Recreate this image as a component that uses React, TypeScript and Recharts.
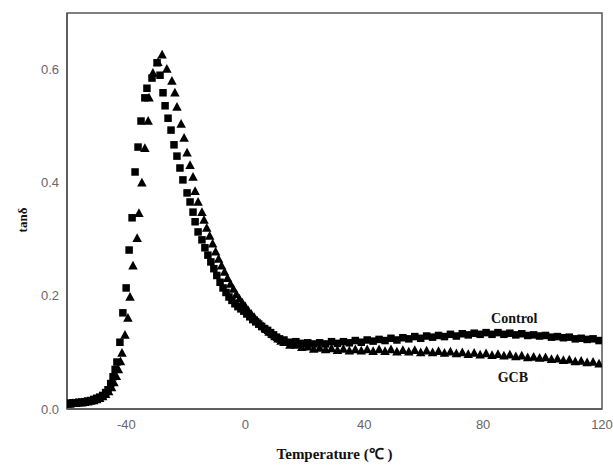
import React from 'react';
import { ScatterChart, Scatter, XAxis, YAxis, ReferenceArea, ReferenceDot } from 'recharts';

// tan delta vs temperature
const controlTemp = [
  -60, -59, -58, -57, -56, -55, -54, -53, -52, -51, -50, -49, -48, -47, -46.2, -45.3, -44.5, -43.8, -43.2,
  -42.2, -41.2, -40.1, -39.1, -38.1, -37.1, -36.1, -35.1, -33.8, -33.1, -31.4, -29.7, -28.7, -27.7, -27,
  -26, -25, -24, -23, -22, -21, -19.6, -18.6, -17.6, -16.9, -15.9, -14.6, -13.6, -12.6, -11.6, -10.6, -9.6,
  -8.5, -7.5, -6.5, -5.5, -4.5, -3.5, -2.5, -1.5, -0.5, 0.5, 1.5, 2.5, 3.5, 4.5, 5.5, 6.5, 7.5, 8.5, 9.5,
  10.5, 11.5, 13, 15, 17, 19, 21, 23, 25, 27, 29, 31, 33, 35, 37, 39, 41, 43, 45, 47, 49, 51, 53, 55, 57,
  59, 61, 63, 65, 67, 69, 71, 73, 75, 77, 79, 81, 83, 85, 87, 89, 91, 93, 95, 97, 99, 101, 103, 105, 107,
  109, 111, 113, 115, 117, 119,
];
const controlTan = [
  0.01, 0.01, 0.011, 0.011, 0.012, 0.012, 0.013, 0.014, 0.015, 0.017, 0.019, 0.021, 0.024, 0.029, 0.034,
  0.045, 0.057, 0.07, 0.083, 0.118, 0.17, 0.214, 0.281, 0.338, 0.419, 0.463, 0.509, 0.55, 0.567, 0.585,
  0.612, 0.59, 0.559, 0.536, 0.514, 0.493, 0.467, 0.447, 0.426, 0.405, 0.382, 0.366, 0.348, 0.331, 0.313,
  0.299, 0.285, 0.272, 0.26, 0.248, 0.236, 0.224, 0.214, 0.206, 0.198, 0.192, 0.186, 0.181, 0.177, 0.173,
  0.168, 0.163, 0.158, 0.154, 0.15, 0.146, 0.142, 0.139, 0.135, 0.131, 0.127, 0.124, 0.122, 0.118, 0.119,
  0.116, 0.117, 0.115, 0.117, 0.115, 0.119, 0.116, 0.119, 0.117, 0.121, 0.118, 0.122, 0.12, 0.123, 0.121,
  0.125, 0.122, 0.126, 0.124, 0.128, 0.125, 0.129, 0.127, 0.13, 0.128, 0.132, 0.129, 0.133, 0.131, 0.134,
  0.132, 0.135, 0.132, 0.135, 0.132, 0.134, 0.131, 0.133, 0.13, 0.131, 0.129, 0.13, 0.127, 0.128, 0.126,
  0.127, 0.124, 0.125, 0.123, 0.124, 0.121,
];

const gcbTemp = [
  -60, -59, -58, -57, -56, -55, -54, -53, -52, -51, -50, -49, -48, -47, -46, -45, -44.2, -43.4, -42.7, -42,
  -41.5, -40.5, -39.5, -38.8, -37.8, -36.4, -35.8, -34.8, -33.8, -32.7, -32.4, -31.1, -29.4, -28, -26.4,
  -24.7, -23.7, -23, -21.6, -20.6, -19.6, -18.6, -17.6, -16.9, -15.9, -14.6, -13.9, -13, -12, -11, -10, -9,
  -8, -7, -6, -5, -4, -3, -2, -1, 0, 1, 2, 3, 4, 5, 6, 7, 8, 9, 10, 11, 12, 13, 15, 17, 19, 21, 23, 25, 27,
  29, 31, 33, 35, 37, 39, 41, 43, 45, 47, 49, 51, 53, 55, 57, 59, 61, 63, 65, 67, 69, 71, 73, 75, 77, 79,
  81, 83, 85, 87, 89, 91, 93, 95, 97, 99, 101, 103, 105, 107, 109, 111, 113, 115, 117, 119,
];
const gcbTan = [
  0.009, 0.009, 0.01, 0.01, 0.011, 0.011, 0.012, 0.013, 0.014, 0.015, 0.017, 0.019, 0.022, 0.026, 0.031,
  0.038, 0.047, 0.058, 0.07, 0.084, 0.099, 0.131, 0.161, 0.198, 0.253, 0.302, 0.346, 0.4, 0.461, 0.509,
  0.55, 0.594, 0.613, 0.626, 0.601, 0.58, 0.559, 0.534, 0.504, 0.479, 0.453, 0.431, 0.41, 0.385, 0.366,
  0.348, 0.334, 0.32, 0.306, 0.292, 0.278, 0.265, 0.253, 0.242, 0.231, 0.221, 0.212, 0.203, 0.195, 0.188,
  0.181, 0.174, 0.168, 0.162, 0.156, 0.151, 0.146, 0.141, 0.136, 0.132, 0.128, 0.124, 0.12, 0.118, 0.113,
  0.113, 0.109, 0.11, 0.106, 0.108, 0.105, 0.107, 0.104, 0.106, 0.103, 0.105, 0.103, 0.105, 0.102, 0.105,
  0.102, 0.105, 0.101, 0.104, 0.101, 0.104, 0.1, 0.103, 0.1, 0.102, 0.099, 0.101, 0.098, 0.1, 0.097,
  0.099, 0.096, 0.098, 0.095, 0.097, 0.094, 0.096, 0.093, 0.094, 0.091, 0.092, 0.09, 0.091, 0.088, 0.089,
  0.086, 0.087, 0.084, 0.085, 0.082, 0.083, 0.08,
];

const xTicks = [-40, 0, 40, 80, 120];
const yTicks = [0, 0.2, 0.4, 0.6];

const controlData = controlTemp.map((t, i) => ({ t, v: controlTan[i] }));
const gcbData = gcbTemp.map((t, i) => ({ t, v: gcbTan[i] }));

const Square = (p: any) => <rect x={p.cx - 3.75} y={p.cy - 3.75} width={7.5} height={7.5} fill="#000" />;
const Triangle = (p: any) => (
  <polygon
    points={`${p.cx},${p.cy - 5} ${p.cx + 4.75},${p.cy + 3.75} ${p.cx - 4.75},${p.cy + 3.75}`}
    fill="#000"
  />
);

const tickStyle = { fill: '#666', fontSize: 13, fontFamily: 'Arial, "Liberation Sans", sans-serif' };
const serifBold = { fontFamily: '"Times New Roman", "Liberation Serif", serif', fontWeight: 'bold' };

const YLabel = (props: any) => {
  const vb = props.viewBox || { x: 0, y: 13, width: 67, height: 396 };
  const x = vb.x + 22;
  const y = vb.y + vb.height / 2 + 9;
  return (
    <text x={x} y={y} transform={`rotate(-90 ${x} ${y})`} textAnchor="middle" dominantBaseline="central"
      fontSize={13} fill="#111" style={serifBold}>
      tanδ
    </text>
  );
};

export default function App() {
  return (
    <div style={{ position: 'absolute', left: 0, top: 0, background: '#fff' }}>
      <ScatterChart width={613} height={466} margin={{ top: 13, right: 11, bottom: 7, left: 0 }}>
        <XAxis
          type="number"
          dataKey="t"
          domain={[-60, 120]}
          ticks={xTicks}
          allowDataOverflow
          height={50}
          tickLine={false}
          tickSize={0}
          tickMargin={11}
          axisLine={{ stroke: '#555', strokeWidth: 1.5 }}
          tick={tickStyle}
          label={{ value: 'Temperature (℃ )', position: 'insideBottom', offset: 0, fill: '#111', fontSize: 15, style: serifBold }}
        />
        <YAxis
          type="number"
          dataKey="v"
          domain={[0, 0.7]}
          ticks={yTicks}
          allowDataOverflow
          width={67}
          tickLine={false}
          tickSize={0}
          tickMargin={8}
          axisLine={{ stroke: '#555', strokeWidth: 1.5 }}
          tick={tickStyle}
          tickFormatter={(v: number) => v.toFixed(1)}
          label={<YLabel />}
        />
        <ReferenceArea x1={-60} x2={120} y1={0} y2={0.7} fill="none" stroke="#555" strokeWidth={1.5} />
        <Scatter name="Control" data={controlData} shape={Square} isAnimationActive={false} />
        <Scatter name="GCB" data={gcbData} shape={Triangle} isAnimationActive={false} />
        <ReferenceDot x={90.5} y={0.161} r={0} fill="none" stroke="none"
          label={{ value: 'Control', position: 'center', fill: '#111', fontSize: 14, style: serifBold }} />
        <ReferenceDot x={90} y={0.057} r={0} fill="none" stroke="none"
          label={{ value: 'GCB', position: 'center', fill: '#111', fontSize: 14, style: serifBold }} />
      </ScatterChart>
    </div>
  );
}
